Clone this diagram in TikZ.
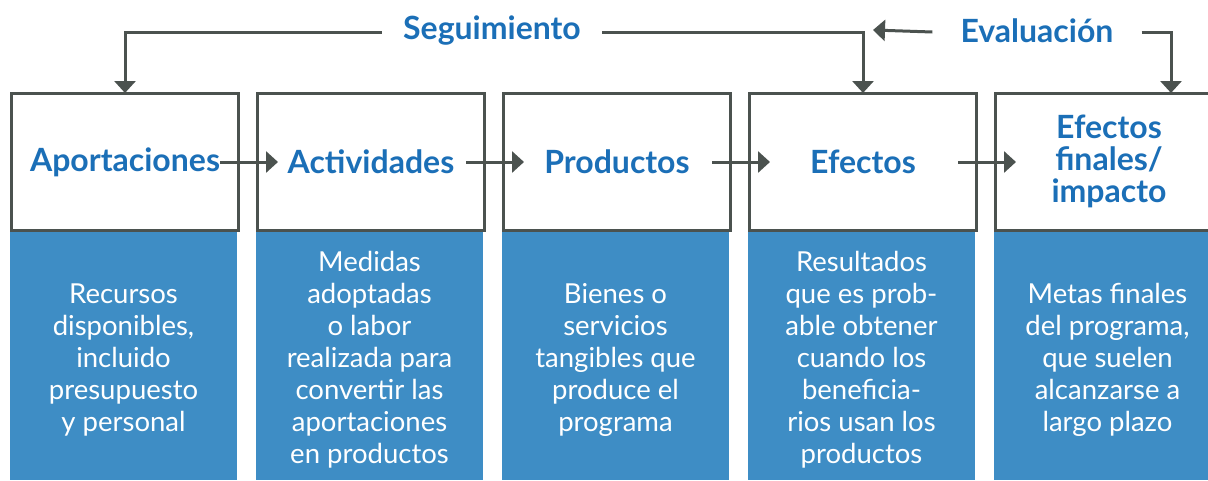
\documentclass[tikz,border=0pt]{standalone}
\usepackage{fontspec}
\setmainfont{Lato}
\usetikzlibrary{arrows.meta}
\definecolor{ln}{HTML}{4B524F}
\definecolor{tblue}{HTML}{1B6FB7}
\definecolor{fblue}{HTML}{3E8DC5}
\tikzset{
  topbox/.style={draw=ln, line width=3pt, minimum width=227pt, minimum height=137pt, inner sep=0pt, fill=white},
  lowbox/.style={fill=fblue, minimum width=227pt, minimum height=251pt, inner sep=0pt},
  ttl/.style={text=tblue, font=\fontsize{32}{32}\selectfont\bfseries, align=center},
  body/.style={text=white, font=\fontsize{27.5}{32}\selectfont, align=center},
  conn/.style={draw=ln, line width=3pt},
  arr/.style={conn, -{Triangle[length=12pt,width=21pt]}},
  lbl/.style={text=tblue, font=\fontsize{32}{32}\selectfont\bfseries, inner ysep=0pt}
}
\begin{document}
\begin{tikzpicture}[x=1pt,y=-1pt]
\useasboundingbox (0,0) rectangle (1208,480);
% lower blue boxes
\node[lowbox, anchor=north west] (l1) at (10,229) {};
\node[lowbox, anchor=north west] (l2) at (256,229) {};
\node[lowbox, anchor=north west] (l3) at (502,229) {};
\node[lowbox, anchor=north west] (l4) at (748,229) {};
\node[lowbox, anchor=north west] (l5) at (994,229) {};
% top boxes
\node[topbox, anchor=north west] (b1) at (10,92) {};
\node[topbox, anchor=north west] (b2) at (256,92) {};
\node[topbox, anchor=north west] (b3) at (502,92) {};
\node[topbox, anchor=north west] (b4) at (748,92) {};
\node[topbox, anchor=north west] (b5) at (994,92) {};
% titles
\node[ttl] (t1) at (b1.center) {Aportaciones};
\node[ttl] (t2) at (b2.center) {Actividades};
\node[ttl] (t3) at (b3.center) {Productos};
\node[ttl] (t4) at (b4.center) {Efectos};
\node[ttl] (t5) at ([yshift=1pt]b5.center) {Efectos\\finales/\\impacto};
% bodies
\node[body] (d1) at (123.5,360) {Recursos\\disponibles,\\incluido\\presupuesto\\y personal};
\node[body] (d2) at (369.5,360) {Medidas\\adoptadas\\o labor\\realizada para\\convertir las\\aportaciones\\en productos};
\node[body] (d3) at (615.5,360) {Bienes o\\servicios\\tangibles que\\produce el\\programa};
\node[body] (d4) at (861.5,360) {Resultados\\que es prob-\\able obtener\\cuando los\\beneficia-\\rios usan los\\productos};
\node[body] (d5) at (1107.5,360) {Metas finales\\del programa,\\que suelen\\alcanzarse a\\largo plazo};
% horizontal arrows
\draw[arr] ([xshift=-20pt]b1.east) -- ([xshift=22pt]b2.west);
\draw[arr] ([xshift=-20pt]b2.east) -- ([xshift=22pt]b3.west);
\draw[arr] ([xshift=-20pt]b3.east) -- ([xshift=22pt]b4.west);
\draw[arr] ([xshift=-20pt]b4.east) -- ([xshift=22pt]b5.west);
% monitoring / evaluation
\node[lbl, inner xsep=21pt] (seg) at (492,31) {Seguimiento};
\node[lbl, inner xsep=28pt] (eva) at (1037,31) {Evaluación};
\coordinate (evtip) at (873,30);
\coordinate (b5in) at (1171,92);
\draw[arr] ([yshift=-1pt]seg.west) -| ([yshift=-1pt]b1.north);
\draw[arr] ([yshift=-1pt]seg.east) -| ([yshift=-1pt]b4.north);
\draw[arr] ([yshift=-1pt]eva.west) -- (evtip);
\draw[arr] ([yshift=-1pt]eva.east) -| ([yshift=-1pt]b5in);
\end{tikzpicture}
\end{document}
